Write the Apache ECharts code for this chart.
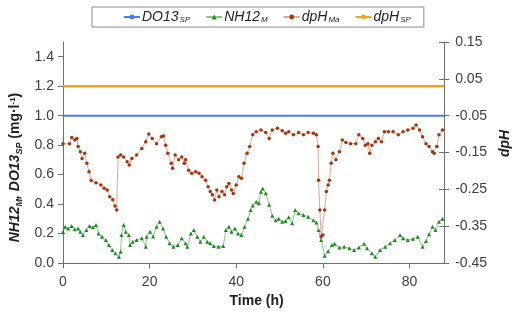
<!DOCTYPE html>
<html><head><meta charset="utf-8">
<script src="https://cdn.jsdelivr.net/npm/echarts@6/dist/echarts.min.js"></script>
<style>html,body{margin:0;padding:0;background:#fff}#c{width:520px;height:321px}</style>
</head><body><div id="c"></div>
<script>
const xTickValues = [0, 20, 40, 60, 80];
const leftTickValues = [0, 0.2, 0.4, 0.6, 0.8, 1.0, 1.2, 1.4];
const rightTickValues = [-0.45, -0.35, -0.25, -0.15, -0.05, 0.05, 0.15];
const setpointHours = [0, 88];
const doSetpoint = 1.0;
const dpHSetpoint = 0.03;

const nhHours = [0,0.5,1.2,2,2.7,3.5,4,4.6,5.4,6.1,6.9,7.6,8.2,9,9.9,10.6,11.4,12.1,12.9,13.3,13.5,14,14.5,15.2,15.5,16.1,17,18.2,19.1,19.3,20.1,20.8,21.6,22.3,23.1,23.8,24.6,25.5,26.5,27.4,28.3,28.7,29.5,30.2,31,31.7,32.5,33.3,34,34.8,35.9,37,37.6,38.3,38.9,39.7,40.4,41.2,41.9,42.7,43.3,43.8,44.6,45.2,45.7,46.1,46.8,47.6,48.3,49.1,49.8,50.6,51.4,52.1,52.9,53.6,54.4,55.5,56.6,57.8,58.5,59,59.6,60.4,61.2,62.1,62.7,63.8,64.9,66.1,67.2,68.3,69.5,70.2,71.3,72.1,73.2,74.4,75.5,76.6,77.8,78.5,79.6,80.8,81.9,83,83.8,84.5,85.3,86,86.8,87.6];
const nhValues = [0.21,0.246,0.235,0.251,0.229,0.235,0.212,0.19,0.224,0.251,0.242,0.258,0.2,0.178,0.156,0.122,0.088,0.066,0.043,0.077,0.19,0.258,0.212,0.19,0.122,0.145,0.156,0.168,0.111,0.178,0.212,0.18,0.246,0.28,0.235,0.178,0.134,0.111,0.122,0.168,0.134,0.111,0.2,0.224,0.178,0.145,0.178,0.145,0.134,0.115,0.111,0.115,0.224,0.246,0.212,0.235,0.2,0.19,0.246,0.3,0.36,0.39,0.416,0.405,0.484,0.505,0.473,0.395,0.32,0.29,0.3,0.28,0.285,0.31,0.27,0.36,0.337,0.326,0.314,0.29,0.275,0.224,0.156,0.05,0.08,0.122,0.13,0.105,0.111,0.1,0.088,0.105,0.13,0.1,0.066,0.043,0.088,0.111,0.134,0.156,0.19,0.168,0.156,0.165,0.178,0.111,0.15,0.195,0.246,0.224,0.28,0.3];

const dpHours = [0,1.5,2,2.7,3.2,3.5,4,4.4,5,5.5,6,6.5,7.6,8.75,9.5,10.2,10.8,11.5,12,12.4,12.7,13.3,14,14.8,15.3,15.9,17,18.2,19.1,19.8,20.6,21.6,22.7,23.2,23.7,24.2,25,25.3,25.9,26.7,27.4,28,28.3,29,29.7,30.6,31.4,32.1,32.9,33.5,34,34.5,35,35.5,36,36.7,37.3,37.8,38.3,38.9,39.3,40,40.6,41.2,41.8,42.5,43.1,43.8,44.6,45.7,46.8,47.6,48.3,49.5,50.6,51.4,52.1,53.2,54.4,55.5,56.6,57.8,58.5,58.9,59,59.3,59.6,60,60.4,60.8,61.2,61.5,61.9,62.3,63,63.8,64.5,65.3,66.4,67.6,68.3,69.2,69.8,70.4,70.8,71.3,72.1,72.8,73.5,74.2,75.1,76.2,77.4,78.5,79.6,80.8,81.5,82.3,83,83.8,84.5,85.3,85.7,86.3,86.8,87.6];
const dpHValues = [-0.126,-0.126,-0.109,-0.116,-0.112,-0.134,-0.148,-0.166,-0.152,-0.179,-0.202,-0.226,-0.232,-0.238,-0.247,-0.252,-0.27,-0.278,-0.295,-0.306,-0.162,-0.157,-0.162,-0.175,-0.184,-0.166,-0.157,-0.139,-0.121,-0.1,-0.112,-0.126,-0.107,-0.105,-0.13,-0.152,-0.179,-0.193,-0.157,-0.17,-0.162,-0.179,-0.17,-0.198,-0.206,-0.202,-0.206,-0.216,-0.225,-0.243,-0.256,-0.265,-0.279,-0.252,-0.27,-0.256,-0.265,-0.243,-0.234,-0.252,-0.261,-0.238,-0.216,-0.22,-0.179,-0.152,-0.134,-0.102,-0.094,-0.089,-0.096,-0.112,-0.089,-0.084,-0.091,-0.098,-0.094,-0.102,-0.096,-0.102,-0.096,-0.098,-0.102,-0.134,-0.225,-0.306,-0.379,-0.374,-0.306,-0.256,-0.238,-0.225,-0.179,-0.152,-0.17,-0.148,-0.116,-0.123,-0.126,-0.126,-0.102,-0.112,-0.13,-0.126,-0.152,-0.13,-0.121,-0.112,-0.121,-0.094,-0.094,-0.094,-0.102,-0.094,-0.089,-0.084,-0.075,-0.089,-0.107,-0.126,-0.134,-0.148,-0.152,-0.134,-0.102,-0.089];

const zip = (a, b) => a.map((t, i) => [t, b[i]]);
const FONT = 'Liberation Sans, Arial, sans-serif';
const legendRich = {
  n: {fontFamily: FONT, fontSize: 14, fontStyle: 'italic', color: '#222'},
  s: {fontFamily: FONT, fontSize: 8, fontStyle: 'italic', color: '#222', padding: [6, 0, 0, 1]}
};
const legendLabels = {
  'DO13_SP': '{n|DO13}{s|SP}',
  'NH12_M': '{n|NH12}{s|M}',
  'dpH_Ma': '{n|dpH}{s|Ma}',
  'dpH_SP': '{n|dpH}{s|SP}'
};
const tickLabel = {fontFamily: FONT, fontSize: 14, color: '#404040'};
const axisLineStyle = {color: '#707070', width: 1};

const chart = echarts.init(document.getElementById('c'), null, {renderer: 'canvas'});
chart.setOption({
  animation: false,
  backgroundColor: '#fff',
  grid: {left: 63, right: 68, top: 42, bottom: 58},
  legend: {
    top: 7, left: 92,
    padding: [3, 13, 3, 31],
    borderColor: '#8a8a8a', borderWidth: 1,
    itemGap: 15, itemWidth: 16, itemHeight: 6,
    data: ['DO13_SP', 'NH12_M', 'dpH_Ma', 'dpH_SP'],
    formatter: name => legendLabels[name],
    textStyle: {rich: legendRich, padding: [0, 0, 0, -3]}
  },
  xAxis: {
    type: 'value', min: 0, max: 88,
    name: 'Time (h)', nameLocation: 'middle', nameGap: 31,
    nameTextStyle: {fontFamily: FONT, fontSize: 14, fontWeight: 'bold', color: '#222', padding: [0, 0, 0, 6]},
    axisLine: {show: true, lineStyle: axisLineStyle},
    axisTick: {show: true, length: 5, customValues: xTickValues, lineStyle: axisLineStyle},
    axisLabel: Object.assign({margin: 12, customValues: xTickValues, formatter: v => String(v)}, tickLabel),
    splitLine: {show: false}
  },
  yAxis: [{
    type: 'value', min: 0, max: 1.5, position: 'left',
    name: '{b|NH12}{bs|M}{b|, DO13}{bs|SP}{p| (mg·l}{sup|-1}{p|)}',
    nameLocation: 'middle', nameGap: 37, nameRotate: 90,
    nameTextStyle: {
      padding: [0, 30, 0, 0],
      rich: {
        b: {fontFamily: FONT, fontSize: 14, fontWeight: 'bold', fontStyle: 'italic', color: '#222'},
        bs: {fontFamily: FONT, fontSize: 9, fontWeight: 'bold', fontStyle: 'italic', color: '#222', padding: [7, 0, 0, 0]},
        p: {fontFamily: FONT, fontSize: 14, fontWeight: 'bold', color: '#222'},
        sup: {fontFamily: FONT, fontSize: 8, fontWeight: 'bold', color: '#222', padding: [0, 0, 6, 0]}
      }
    },
    axisLine: {show: true, lineStyle: axisLineStyle},
    axisTick: {show: true, length: 5, customValues: leftTickValues, lineStyle: axisLineStyle},
    axisLabel: Object.assign({margin: 9, customValues: leftTickValues, formatter: v => v.toFixed(1)}, tickLabel),
    splitLine: {show: false}
  }, {
    type: 'value', min: -0.45, max: 0.15, position: 'right',
    name: 'dpH', nameLocation: 'middle', nameGap: 47, nameRotate: 90,
    nameTextStyle: {fontFamily: FONT, fontSize: 14, fontWeight: 'bold', fontStyle: 'italic', color: '#222', padding: [0, 0, 0, 18]},
    axisLine: {show: true, lineStyle: axisLineStyle},
    axisTick: {show: true, length: 5, customValues: rightTickValues, lineStyle: axisLineStyle},
    axisLabel: Object.assign({margin: 11, customValues: rightTickValues, formatter: v => v.toFixed(2)}, tickLabel),
    splitLine: {show: false}
  }, {
    type: 'value', min: -0.45, max: 0.15, position: 'right',
    axisLine: {show: false},
    axisTick: {show: true, inside: true, length: 5, customValues: rightTickValues, lineStyle: axisLineStyle},
    axisLabel: {show: false},
    splitLine: {show: false}
  }],
  series: [{
    name: 'DO13_SP', type: 'line', yAxisIndex: 0,
    data: setpointHours.map(t => [t, doSetpoint]),
    symbol: 'circle', symbolSize: 3, showSymbol: false,
    lineStyle: {color: '#4a7cf0', width: 2}, itemStyle: {color: '#4a7cf0'}, z: 5
  }, {
    name: 'NH12_M', type: 'line', yAxisIndex: 0,
    data: zip(nhHours, nhValues),
    symbol: 'triangle', symbolSize: 4,
    lineStyle: {color: 'rgba(40,150,40,0.55)', width: 1}, itemStyle: {color: '#1f8a1f'}, z: 3
  }, {
    name: 'dpH_Ma', type: 'line', yAxisIndex: 1,
    data: zip(dpHours, dpHValues),
    symbol: 'circle', symbolSize: 3.5,
    lineStyle: {color: 'rgba(190,100,70,0.55)', width: 1}, itemStyle: {color: '#a3360f'}, z: 3
  }, {
    name: 'dpH_SP', type: 'line', yAxisIndex: 1,
    data: setpointHours.map(t => [t, dpHSetpoint]),
    symbol: 'none',
    lineStyle: {color: '#f5a21c', width: 2.5}, itemStyle: {color: '#f5a21c'}, z: 5
  }]
});
</script></body></html>
